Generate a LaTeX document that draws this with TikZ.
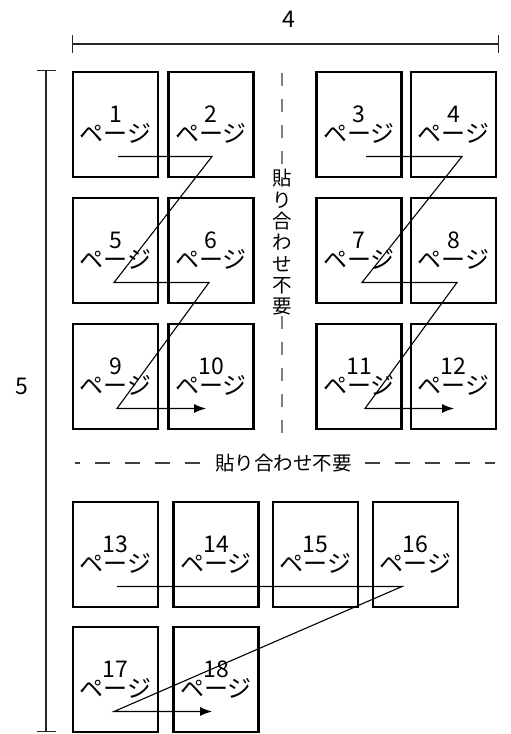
\documentclass[tikz,border=0pt]{standalone}
\usepackage{fontspec}
\setmainfont{Noto Sans CJK JP}
\usetikzlibrary{calc,arrows.meta}
\newcommand{\pagenum}{\fontsize{23}{23}\selectfont}
\newcommand{\drawPage}[5]{% name, center: x,y, number, x offset of zigzag point
  \node[pagebox] (#1) at (#2,#3) {{\pagenum #4}\\[-4pt]ページ};
  \coordinate (#1z) at ($(#1)+(#5,32)$);
}
\tikzset{
  pagebox/.style={draw,line width=2.4pt,minimum width=85pt,minimum height=105pt,
    inner sep=0pt,align=center,font=\fontsize{24}{24}\selectfont},
  zig/.style={line width=1.1pt,line join=miter},
  dimline/.style={line width=1.2pt,black!85},
  sepline/.style={line width=1.2pt},
  sepnote/.style={inner sep=0pt,font=\fontsize{19.5}{21.3}\selectfont,align=center}
}

\begin{document}
\begin{tikzpicture}[x=1pt,y=-1pt,>={Latex[length=12pt,width=9pt]}]
\useasboundingbox (0,0) rectangle (511,734);
% Reference grid (temporary)
%\draw[help lines,step=50] (0,0) grid (511,734);

% Sizes 4 and 5
\coordinate (wl) at (71.5,44);
\coordinate (wr) at (499,44);
\draw[dimline,{Bar[width=18pt]}-{Bar[width=18pt]}] (wl) -- (wr);
\node[font=\fontsize{23}{23}\selectfont] (wlab) at (289,19) {4};
\coordinate (ht) at (46,70);
\coordinate (hb) at (46,732);
\draw[dimline,{Bar[width=19pt]}-{Bar[width=19pt]}] (ht) -- (hb);
\node[font=\fontsize{23}{23}\selectfont] (hlab) at (22,386) {5};

% Left block, pages 1 to 10
\drawPage{p1}{115.5}{124.5}{1}{2.5}
\drawPage{p2}{211}{124.5}{2}{1}
\drawPage{p5}{115.5}{250.5}{5}{-1.5}
\drawPage{p6}{211}{250.5}{6}{-2}
\drawPage{p9}{115.5}{376.5}{9}{1.5}
\drawPage{p10}{211}{376.5}{10}{0}

% Right block, pages 3 to 12
\drawPage{p3}{359}{124.5}{3}{7}
\drawPage{p4}{453.5}{124.5}{4}{8.5}
\drawPage{p7}{359}{250.5}{7}{3}
\drawPage{p8}{453.5}{250.5}{8}{3.5}
\drawPage{p11}{359}{376.5}{11}{6}
\drawPage{p12}{453.5}{376.5}{12}{5.5}

% Bottom rows, pages 13 to 18
\drawPage{p13}{115.5}{554.5}{13}{1.5}
\drawPage{p14}{216}{554.5}{14}{0}
\drawPage{p15}{315.5}{554.5}{15}{0}
\drawPage{p16}{415.5}{554.5}{16}{-13.5}
\drawPage{p17}{115.5}{679.5}{17}{-1.5}
\drawPage{p18}{216}{679.5}{18}{1}

% Page order
\draw[zig,->,shorten >=5pt] (p1z) -- (p2z) -- (p5z) -- (p6z) -- (p9z) -- (p10z);
\draw[zig,->,shorten >=5pt] (p3z) -- (p4z) -- (p7z) -- (p8z) -- (p11z) -- (p12z);
\draw[zig,->,shorten >=5pt] (p13z) -- (p16z) -- (p17z) -- (p18z);

% No gluing needed
\coordinate (vt) at (282,73);
\coordinate (vb) at (282,433);
\node[sepnote] (vnote) at (282,242.5) {貼\\り\\合\\わ\\せ\\不\\要};
\draw[sepline,gray,dash pattern=on 13pt off 13pt] (vt) -- ([yshift=-10pt]vnote.north);
\draw[sepline,gray,dash pattern=on 13pt off 13pt] (vb) -- ([yshift=10pt]vnote.south);

\coordinate (hl) at (75,463);
\coordinate (hr) at (495,463);
\node[sepnote] (hnote) at (283.5,463) {貼り合わせ不要};
\draw[sepline,black!75,dash pattern=on 15pt off 15pt,dash phase=10pt] (hl) -- ([xshift=-10pt]hnote.west);
\draw[sepline,black!75,dash pattern=on 15pt off 15pt,dash phase=5pt] (hr) -- ([xshift=10pt]hnote.east);
\end{tikzpicture}
\end{document}
